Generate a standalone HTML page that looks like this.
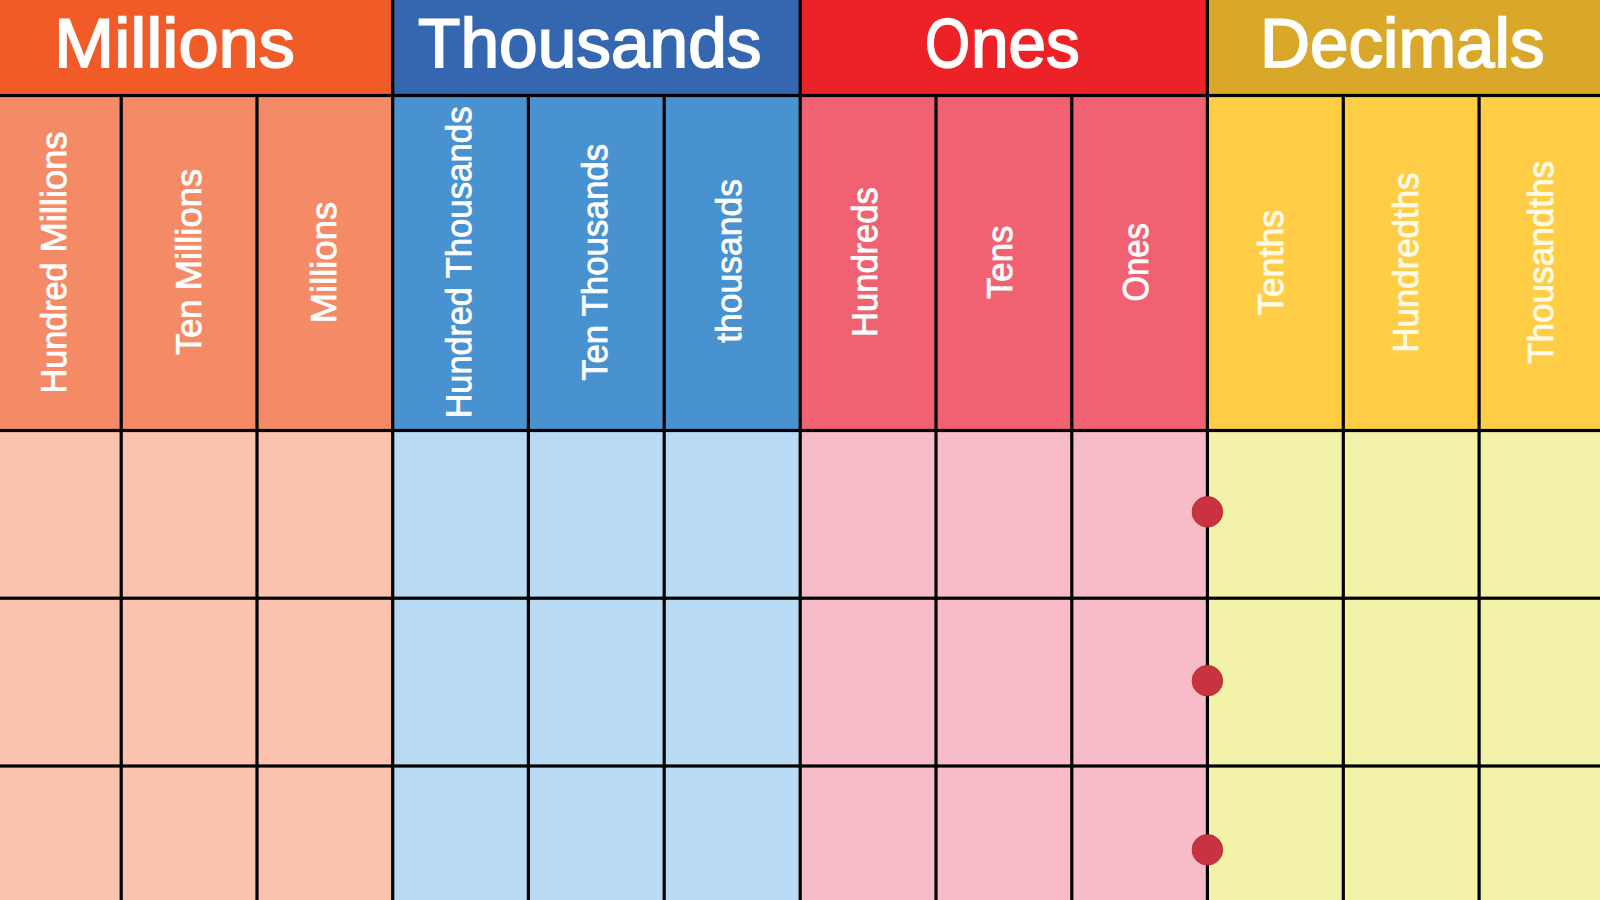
<!DOCTYPE html>
<html lang="en">
<head>
<meta charset="utf-8">
<title>Place Value Chart</title>
<style>
html,body{margin:0;padding:0;width:1600px;height:900px;overflow:hidden;background:#fff}
#chart{position:relative;width:1600px;height:900px;overflow:hidden;font-family:"Liberation Sans",sans-serif;color:#fff}
svg.bg{position:absolute;left:0;top:0;display:block}
.h span,.v span{position:absolute;left:0;top:0;line-height:1;white-space:nowrap;transform-origin:0 0;color:#fff;text-rendering:geometricPrecision}
.h,.v{position:absolute;left:0;top:0}
.h span{-webkit-text-stroke:1.8px #fff}
.v span{-webkit-text-stroke:0.8px #fff}
.v.d span{color:#fffbe8;-webkit-text-stroke-color:#fffbe8}
</style>
</head>
<body>
<div id="chart">
<svg class="bg" width="1600" height="900" viewBox="0 0 1600 900">
<rect x="0" y="0" width="392.7" height="95.5" fill="#F15B28"/>
<rect x="0" y="95.5" width="392.7" height="335.0" fill="#F58B66"/>
<rect x="0" y="430.5" width="392.7" height="469.5" fill="#FBC3AD"/>
<rect x="392.7" y="0" width="407.5" height="95.5" fill="#3567B1"/>
<rect x="392.7" y="95.5" width="407.5" height="335.0" fill="#4892D0"/>
<rect x="392.7" y="430.5" width="407.5" height="469.5" fill="#B8DAF3"/>
<rect x="800.2" y="0" width="407.2" height="95.5" fill="#ED2226"/>
<rect x="800.2" y="95.5" width="407.2" height="335.0" fill="#F06272"/>
<rect x="800.2" y="430.5" width="407.2" height="469.5" fill="#F8BCC8"/>
<rect x="1207.4" y="0" width="392.6" height="95.5" fill="#D9A82A"/>
<rect x="1207.4" y="95.5" width="392.6" height="335.0" fill="#FFCE46"/>
<rect x="1207.4" y="430.5" width="392.6" height="469.5" fill="#F3F2A9"/>
<rect x="119.60" y="95.5" width="3.2" height="804.5" fill="#000"/>
<rect x="255.40" y="95.5" width="3.2" height="804.5" fill="#000"/>
<rect x="391.10" y="0" width="3.2" height="900" fill="#000"/>
<rect x="526.80" y="95.5" width="3.2" height="804.5" fill="#000"/>
<rect x="662.60" y="95.5" width="3.2" height="804.5" fill="#000"/>
<rect x="798.60" y="0" width="3.2" height="900" fill="#000"/>
<rect x="934.40" y="95.5" width="3.2" height="804.5" fill="#000"/>
<rect x="1070.20" y="95.5" width="3.2" height="804.5" fill="#000"/>
<rect x="1205.80" y="0" width="3.2" height="900" fill="#000"/>
<rect x="1341.70" y="95.5" width="3.2" height="804.5" fill="#000"/>
<rect x="1477.50" y="95.5" width="3.2" height="804.5" fill="#000"/>
<rect x="0" y="93.90" width="1600" height="3.2" fill="#000"/>
<rect x="0" y="428.90" width="1600" height="3.2" fill="#000"/>
<rect x="0" y="596.60" width="1600" height="3.2" fill="#000"/>
<rect x="0" y="764.40" width="1600" height="3.2" fill="#000"/>
<circle cx="1207.4" cy="511.8" r="15.3" fill="#C9323E" stroke="#A9282F" stroke-width="0.8"/>
<circle cx="1207.4" cy="680.7" r="15.3" fill="#C9323E" stroke="#A9282F" stroke-width="0.8"/>
<circle cx="1207.4" cy="849.8" r="15.3" fill="#C9323E" stroke="#A9282F" stroke-width="0.8"/>
</svg>
<div class="h"><span style="left:53.56px;top:9px;font-size:69.33px;transform:scaleX(1.0424)">Millions</span></div>
<div class="h"><span style="left:417.51px;top:9px;font-size:69.33px;transform:scaleX(1.0014)">Thousands</span></div>
<div class="h"><span style="left:924.95px;top:9px;font-size:69.33px;transform:scaleX(0.8338)">O</span><span style="left:971.09px;top:9px;font-size:69.33px;transform:scaleX(0.9738)">nes</span></div>
<div class="h"><span style="left:1259.86px;top:9px;font-size:69.33px;transform:scaleX(0.9983)">Decimals</span></div>
<div class="v"><span style="font-size:35.76px;transform:translate(37.00px,393.55px) rotate(-90deg) scaleX(0.9560)">Hundred</span> <span style="font-size:35.76px;transform:translate(37.00px,252.50px) rotate(-90deg) scaleX(1.0152)">Millions</span></div>
<div class="v"><span style="font-size:35.76px;transform:translate(172.00px,355.10px) rotate(-90deg) scaleX(0.9639)">Ten</span> <span style="font-size:35.76px;transform:translate(172.00px,290.20px) rotate(-90deg) scaleX(1.0178)">Millions</span></div>
<div class="v"><span style="font-size:35.76px;transform:translate(307.00px,323.20px) rotate(-90deg) scaleX(1.0178)">Millions</span></div>
<div class="v"><span style="font-size:35.76px;transform:translate(442.00px,418.35px) rotate(-90deg) scaleX(0.9568)">Hundred</span> <span style="font-size:35.76px;transform:translate(442.00px,278.61px) rotate(-90deg) scaleX(0.9735)">Thousands</span></div>
<div class="v"><span style="font-size:35.76px;transform:translate(578.00px,380.81px) rotate(-90deg) scaleX(0.9693)">Ten</span> <span style="font-size:35.76px;transform:translate(578.00px,316.61px) rotate(-90deg) scaleX(0.9770)">Thousands</span></div>
<div class="v"><span style="font-size:35.76px;transform:translate(712.00px,342.84px) rotate(-90deg) scaleX(0.9925)">thousands</span></div>
<div class="v"><span style="font-size:35.76px;transform:translate(848.00px,336.98px) rotate(-90deg) scaleX(0.9664)">Hundreds</span></div>
<div class="v"><span style="font-size:35.76px;transform:translate(983.00px,299.01px) rotate(-90deg) scaleX(0.9720)">Tens</span></div>
<div class="v"><span style="font-size:35.76px;transform:translate(1119.00px,301.61px) rotate(-90deg) scaleX(0.9185)">Ones</span></div>
<div class="v d"><span style="font-size:35.76px;transform:translate(1254.00px,315.22px) rotate(-90deg) scaleX(1.0006)">Tenths</span></div>
<div class="v d"><span style="font-size:35.76px;transform:translate(1389.00px,352.80px) rotate(-90deg) scaleX(0.9755)">Hundredths</span></div>
<div class="v d"><span style="font-size:35.76px;transform:translate(1524.00px,363.91px) rotate(-90deg) scaleX(0.9820)">Thousandths</span></div>
</div>
</body>
</html>
